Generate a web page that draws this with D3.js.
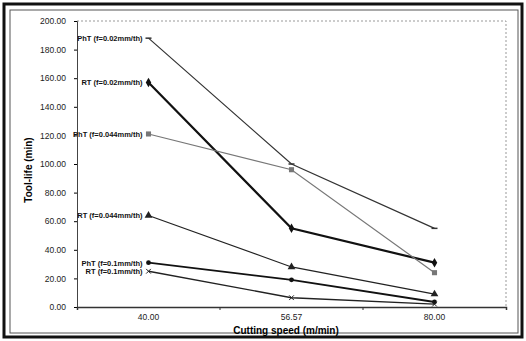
<!DOCTYPE html>
<html>
<head>
<meta charset="utf-8">
<script src="https://cdn.jsdelivr.net/npm/d3@7"></script>
<style>
  body { margin: 0; background: #fff; }
  svg { font-family: "Liberation Sans", Arial, sans-serif; }
</style>
</head>
<body>
<div id="chart"></div>
<script>
// cutting speeds (m/min), shown as categories
const speeds = ["40.00", "56.57", "80.00"];
const yTicks = [0, 20, 40, 60, 80, 100, 120, 140, 160, 180, 200];

// tool life (min) per series
const phtF002 = [188, 100, 55];
const rtF002 = [157, 55, 31];
const phtF0044 = [121, 96, 24];
const rtF0044 = [64, 28, 9];
const phtF01 = [31, 19, 3.5];
const rtF01 = [25, 6.5, 2];

const seriesNames = ["PhT (f=0.02mm/th)", "RT (f=0.02mm/th)", "PhT (f=0.044mm/th)",
                     "RT (f=0.044mm/th)", "PhT (f=0.1mm/th)", "RT (f=0.1mm/th)"];
const seriesValues = [phtF002, rtF002, phtF0044, rtF0044, phtF01, rtF01];

const styles = [
  {color: "#333", width: 1.2, marker: "dash"},
  {color: "#111", width: 2.2, marker: "diamond"},
  {color: "#777", width: 1.2, marker: "square"},
  {color: "#222", width: 1.2, marker: "triangle"},
  {color: "#111", width: 1.8, marker: "circle"},
  {color: "#222", width: 1.4, marker: "star"}
];

const W = 526, H = 341;
const margin = {top: 21, right: 20, bottom: 34, left: 77};

const svg = d3.select("#chart").append("svg")
  .attr("width", W).attr("height", H);

// scanned frame
svg.append("rect").attr("x", 4).attr("y", 4).attr("width", 518).attr("height", 333)
  .attr("fill", "none").attr("stroke", "#111").attr("stroke-width", 3);
svg.append("rect").attr("x", 10).attr("y", 10).attr("width", 508).attr("height", 323)
  .attr("fill", "none").attr("stroke", "#555").attr("stroke-width", 1);

const x = d3.scaleBand().domain(speeds).range([margin.left, W - margin.right]);
const y = d3.scaleLinear().domain([0, 200]).range([H - margin.bottom, margin.top]);

// plot area border (dotted top/right)
svg.append("path")
  .attr("d", `M${margin.left},${margin.top}H${W - margin.right}V${H - margin.bottom}`)
  .attr("fill", "none").attr("stroke", "#999").attr("stroke-width", 1)
  .attr("stroke-dasharray", "2,2");

const yAxis = svg.append("g")
  .attr("transform", `translate(${margin.left},0)`)
  .call(d3.axisLeft(y).tickValues(yTicks).tickFormat(d3.format(".2f")).tickSize(3).tickPadding(8));
yAxis.selectAll("text").attr("font-size", 8.5).attr("fill", "#222");
yAxis.select(".domain").attr("stroke", "#444");

const xAxis = svg.append("g")
  .attr("transform", `translate(0,${H - margin.bottom})`)
  .call(d3.axisBottom(x).tickSizeInner(0).tickSizeOuter(3).tickPadding(7));
xAxis.selectAll("text").attr("font-size", 8.5).attr("fill", "#222");
xAxis.select(".domain").attr("stroke", "#333").attr("stroke-width", 1.5);
// band separators
xAxis.selectAll(".sep").data(speeds.slice(1)).join("line")
  .attr("x1", d => x(d)).attr("x2", d => x(d)).attr("y1", 0).attr("y2", 3)
  .attr("stroke", "#333");

svg.append("text")
  .attr("x", 286).attr("y", 334)
  .attr("text-anchor", "middle").attr("font-size", 10).attr("font-weight", "bold")
  .text("Cutting speed (m/min)");

svg.append("text")
  .attr("transform", `translate(32,${(margin.top + H - margin.bottom) / 2 + 6}) rotate(-90)`)
  .attr("text-anchor", "middle").attr("font-size", 10).attr("font-weight", "bold")
  .text("Tool-life (min)");

const line = d3.line()
  .x((d, i) => x(speeds[i]) + x.bandwidth() / 2)
  .y(d => y(d));

const symbolMap = {
  diamond: d3.symbolDiamond, square: d3.symbolSquare, triangle: d3.symbolTriangle,
  circle: d3.symbolCircle, star: d3.symbolTimes, dash: null
};

seriesValues.forEach((vals, k) => {
  const st = styles[k];
  const g = svg.append("g");
  g.append("path").datum(vals)
    .attr("d", line).attr("fill", "none")
    .attr("stroke", st.color).attr("stroke-width", st.width);

  const pts = g.selectAll("g.pt").data(vals).join("g")
    .attr("transform", (d, i) => `translate(${x(speeds[i]) + x.bandwidth() / 2},${y(d)})`);
  if (st.marker === "dash") {
    pts.append("line").attr("x1", -3).attr("x2", 3)
      .attr("stroke", st.color).attr("stroke-width", 1.5);
  } else if (st.marker === "star") {
    pts.append("path").attr("d", d3.symbol(symbolMap.star, 16))
      .attr("fill", "none").attr("stroke", st.color).attr("stroke-width", 1);
  } else {
    pts.append("path").attr("d", d3.symbol(symbolMap[st.marker], st.marker === "circle" ? 18 : 26))
      .attr("fill", st.color);
  }

  g.append("text")
    .attr("x", x(speeds[0]) + x.bandwidth() / 2 - 6)
    .attr("y", y(vals[0]) + 3)
    .attr("text-anchor", "end").attr("font-size", 7.5).attr("font-weight", "bold")
    .attr("fill", "#111")
    .text(seriesNames[k]);
});
</script>
</body>
</html>
